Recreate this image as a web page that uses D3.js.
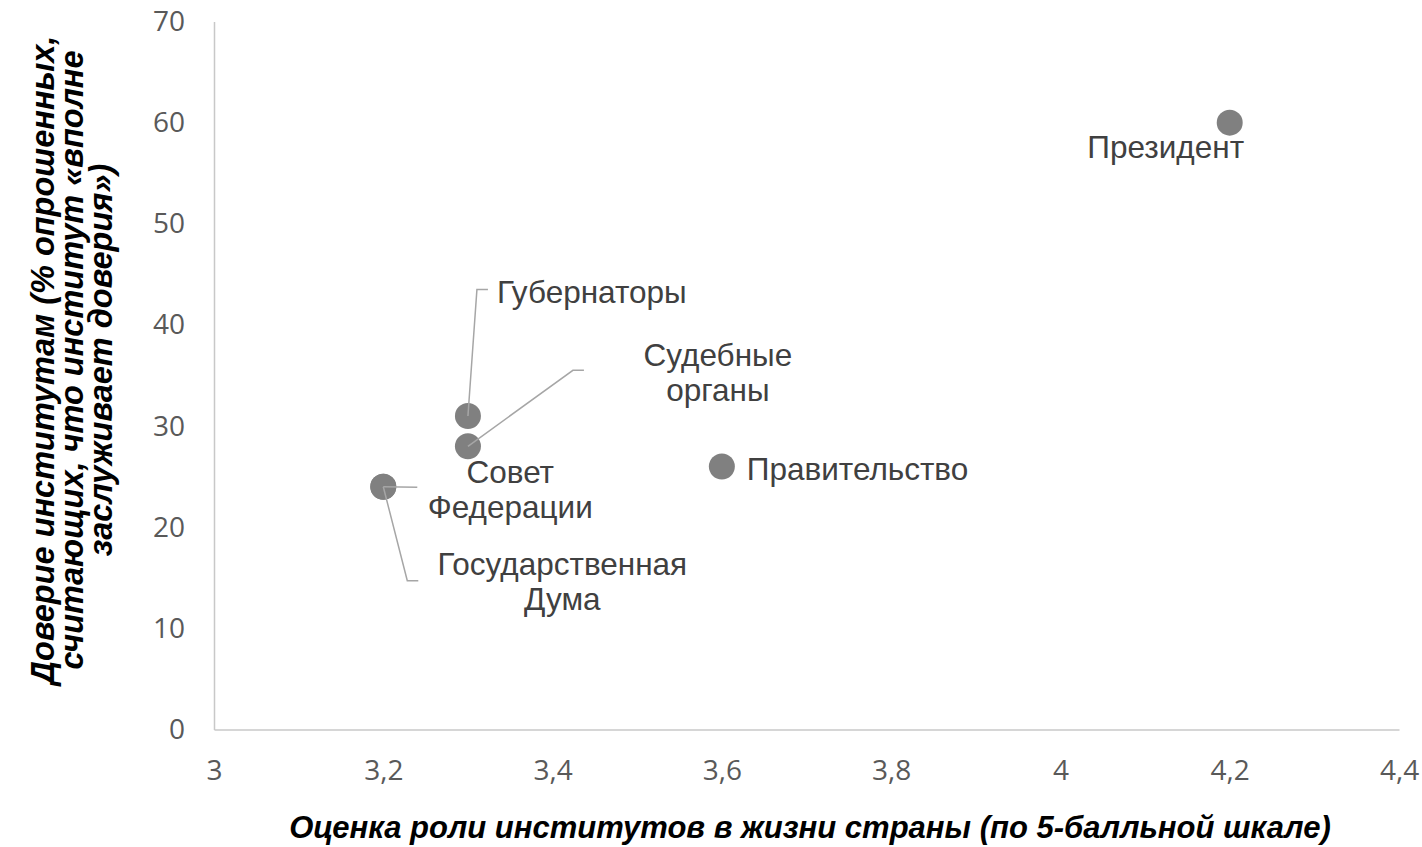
<!DOCTYPE html>
<html>
<head>
<meta charset="utf-8">
<script src="https://cdn.jsdelivr.net/npm/d3@7"></script>
<style>
  html, body { margin: 0; padding: 0; background: #fff; }
  svg { display: block; }
</style>
</head>
<body>
<svg id="chart" width="1422" height="847"></svg>
<script>
// ---- data ----
const institutions = ["Президент", "Правительство", "Губернаторы", "Судебные органы", "Совет Федерации", "Государственная Дума"];
const roleScores   = [4.2, 3.6, 3.3, 3.3, 3.2, 3.2];
const trustPercent = [60, 26, 31, 28, 24, 24];
const labelLines   = [["Президент"], ["Правительство"], ["Губернаторы"], ["Судебные", "органы"], ["Совет", "Федерации"], ["Государственная", "Дума"]];
const xTicks = [3, 3.2, 3.4, 3.6, 3.8, 4, 4.2, 4.4];
const yTicks = [0, 10, 20, 30, 40, 50, 60, 70];
const xTitle = "Оценка роли институтов в жизни страны (по 5-балльной шкале)";
const yTitleLines = ["Доверие институтам (% опрошенных,", "считающих, что институт «вполне", "заслуживает доверия»)"];

// ---- layout (pixel offsets of labels / leader lines from their point) ----
const labelLayout = [
  { dx: -64, dy: 35, anchor: "middle", leader: null },
  { dx: 25, dy: 13, anchor: "start", leader: null },
  { dx: 29, dy: -113, anchor: "start", leader: [[9, -126.5], [20, -126.5]] },
  { dx: 250, dy: -80, anchor: "middle", leader: [[105, -76], [116, -76]] },
  { dx: 127, dy: -4, anchor: "middle", leader: [[34, 0.5]] },
  { dx: 179, dy: 88, anchor: "middle", leader: [[24, 94], [35, 94]] }
];

const svg = d3.select("#chart");
const x = d3.scaleLinear().domain([3, 4.4]).range([214, 1399]);
const y = d3.scaleLinear().domain([0, 70]).range([729.5, 21.5]);

const loc = d3.formatLocale({ decimal: ",", thousands: " ", grouping: [3], currency: ["", ""] });
const fmt = loc.format("~g");

const tickFont = "'Open Sans', sans-serif";
const axisColor = "#c8c8c8";

// axes
const gx = svg.append("g").attr("transform", `translate(0,${y(0)})`)
  .call(d3.axisBottom(x).tickValues(xTicks).tickFormat(fmt).tickSize(0).tickPadding(31));
const gy = svg.append("g").attr("transform", `translate(${x(3)},0)`)
  .call(d3.axisLeft(y).tickValues(yTicks).tickFormat(fmt).tickSize(0).tickPadding(29));
[gx, gy].forEach(g => {
  g.select(".domain").attr("stroke", axisColor).attr("stroke-width", 1.5);
  g.selectAll("text").attr("fill", "#595959").style("font-family", tickFont).style("font-size", "28px");
});

const pts = institutions.map((name, i) => ({
  name, xv: roleScores[i], yv: trustPercent[i], lines: labelLines[i], lay: labelLayout[i]
}));

// markers
svg.append("g").selectAll("circle").data(pts).join("circle")
  .attr("cx", d => x(d.xv)).attr("cy", d => y(d.yv)).attr("r", 13)
  .attr("fill", "#808080");

// leader lines
svg.append("g").selectAll("path").data(pts.filter(d => d.lay.leader)).join("path")
  .attr("d", d => {
    const px = x(d.xv), py = y(d.yv);
    return "M" + px + "," + py + d.lay.leader.map(p => "L" + (px + p[0]) + "," + (py + p[1])).join("");
  })
  .attr("fill", "none").attr("stroke", "#a6a6a6").attr("stroke-width", 1.5);

// data labels
const lbl = svg.append("g").selectAll("text").data(pts).join("text")
  .attr("x", d => x(d.xv) + d.lay.dx)
  .attr("y", d => y(d.yv) + d.lay.dy)
  .attr("text-anchor", d => d.lay.anchor)
  .attr("fill", "#404040")
  .style("font-family", "'Liberation Sans', Arial, sans-serif")
  .style("font-size", "31.5px");
lbl.selectAll("tspan").data(d => d.lines.map((t, k) => ({ t, k, d }))).join("tspan")
  .attr("x", o => x(o.d.xv) + o.d.lay.dx)
  .attr("dy", o => o.k === 0 ? 0 : 35)
  .text(o => o.t);

// axis titles
const titleFont = "'Liberation Sans', Arial, sans-serif";
svg.append("text")
  .attr("x", 810).attr("y", 838)
  .attr("text-anchor", "middle")
  .attr("fill", "#000")
  .style("font-family", titleFont).style("font-size", "31px")
  .style("font-weight", "bold").style("font-style", "italic")
  .text(xTitle);

const yt = svg.append("text")
  .attr("transform", "translate(54,360) rotate(-90)")
  .attr("text-anchor", "middle")
  .attr("fill", "#000")
  .style("font-family", titleFont).style("font-size", "32.5px")
  .style("font-weight", "bold").style("font-style", "italic");
yt.selectAll("tspan").data(yTitleLines).join("tspan")
  .attr("x", 0).attr("dy", (d, i) => i === 0 ? 0 : 29)
  .text(d => d);
</script>
</body>
</html>
